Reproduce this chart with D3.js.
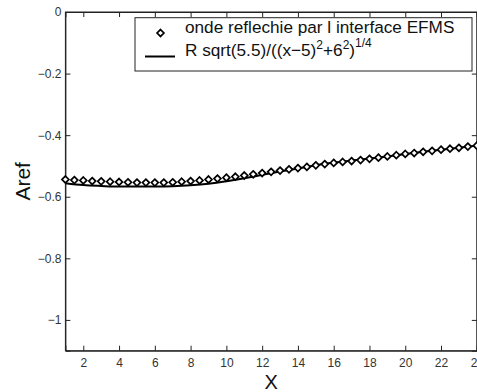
<!DOCTYPE html>
<html><head><meta charset="utf-8">
<script src="https://cdn.jsdelivr.net/npm/d3@7/dist/d3.min.js"></script>
<style>body{margin:0;background:#fff}svg{display:block}</style>
</head><body>
<script>
// data
const diamondX = d3.range(1, 24.01, 0.5);
const diamondY = [-0.544,-0.546,-0.547,-0.549,-0.550,-0.551,-0.552,-0.553,-0.554,-0.554,-0.554,-0.554,-0.553,-0.551,-0.549,-0.547,-0.544,-0.541,-0.538,-0.535,-0.531,-0.527,-0.523,-0.519,-0.515,-0.511,-0.507,-0.503,-0.498,-0.494,-0.490,-0.487,-0.484,-0.481,-0.477,-0.473,-0.469,-0.465,-0.461,-0.458,-0.454,-0.451,-0.447,-0.444,-0.441,-0.437,-0.434];
const lineX = [1,2,3,4,5,6,7,8,9,10,11,12,13,14,15,16,17,18,19,20,21,22,23,24];
const lineY = [-0.556,-0.562,-0.565,-0.567,-0.567,-0.567,-0.566,-0.563,-0.558,-0.550,-0.540,-0.529,-0.518,-0.508,-0.498,-0.489,-0.482,-0.476,-0.469,-0.461,-0.454,-0.447,-0.441,-0.434];
const xTicks = [2,4,6,8,10,12,14,16,18,20,22,24];
const yTicks = [0,-0.2,-0.4,-0.6,-0.8,-1];
const legendLabels = ["onde reflechie par l interface EFMS", "R sqrt(5.5)/((x\u22125)"];

const W = 477, H = 392;
const m = {l:65.4, r:476.8, t:12, b:350.7};
const svg = d3.select("body").append("svg").attr("width", W).attr("height", H);
const x = d3.scaleLinear().domain([1,24]).range([m.l, m.r]);
const y = d3.scaleLinear().domain([-1.1,0]).range([m.b, m.t]);
const font = "Liberation Sans, Arial, Helvetica, sans-serif";

// box
svg.append("rect").attr("x", m.l).attr("y", m.t).attr("width", m.r-m.l).attr("height", m.b-m.t)
  .attr("fill","none").attr("stroke","#222").attr("stroke-width",1);

// axes
const ax = svg.append("g").attr("transform", `translate(0,${m.b})`)
  .call(d3.axisBottom(x).tickValues(xTicks).tickSize(-5).tickPadding(8).tickFormat(d3.format("d")));
const axT = svg.append("g").attr("transform", `translate(0,${m.t})`)
  .call(d3.axisTop(x).tickValues(xTicks).tickSize(-5).tickFormat(""));
const ay = svg.append("g").attr("transform", `translate(${m.l},0)`)
  .call(d3.axisLeft(y).tickValues(yTicks).tickSize(-5).tickPadding(4).tickFormat(d => d===0 ? "0" : d3.format(".1f")(d).replace(/\.0$/,"").replace("-","\u2212")));
const ayR = svg.append("g").attr("transform", `translate(${m.r},0)`)
  .call(d3.axisRight(y).tickValues(yTicks).tickSize(-5).tickFormat(""));
[ax,axT,ay,ayR].forEach(g => {
  g.select(".domain").attr("stroke","#222");
  g.selectAll(".tick line").attr("stroke","#222");
  g.selectAll("text").attr("font-family", font).attr("font-size", 12).attr("fill","#333");
});

// line
svg.append("path").datum(lineX.map((d,i)=>[d,lineY[i]]))
  .attr("d", d3.line().curve(d3.curveMonotoneX).x(d=>x(d[0])).y(d=>y(d[1])))
  .attr("fill","none").attr("stroke","#000").attr("stroke-width",2);

// diamonds
const dia = d3.symbol().type(d3.symbolDiamond2).size(30);
svg.append("g").selectAll("path").data(diamondX.map((d,i)=>[d,diamondY[i]])).join("path")
  .attr("transform", d=>`translate(${x(d[0])},${y(d[1])})`)
  .attr("d", dia).attr("fill","#fff").attr("stroke","#000").attr("stroke-width",1.7);

// legend
const lg = svg.append("g");
lg.append("rect").attr("x",135).attr("y",17.7).attr("width",337).attr("height",53.3)
  .attr("fill","#fff").attr("stroke","#222").attr("stroke-width",1);
lg.append("path").attr("transform","translate(160.5,33)").attr("d", dia)
  .attr("fill","#fff").attr("stroke","#000").attr("stroke-width",1.7);
lg.append("line").attr("x1",145).attr("x2",175).attr("y1",56.5).attr("y2",56.5)
  .attr("stroke","#000").attr("stroke-width",2);
lg.append("text").attr("x",185).attr("y",33).attr("font-family",font).attr("font-size",17.2)
  .attr("fill","#111").text(legendLabels[0]);
const t2 = lg.append("text").attr("x",185).attr("y",56).attr("font-family",font).attr("font-size",17.2).attr("fill","#111");
t2.append("tspan").text(legendLabels[1]);
t2.append("tspan").attr("font-size",12).attr("dy",-7).text("2");
t2.append("tspan").attr("dy",7).text("+6");
t2.append("tspan").attr("font-size",12).attr("dy",-7).text("2");
t2.append("tspan").attr("dy",7).text(")");
t2.append("tspan").attr("font-size",12).attr("dy",-9).text("1/4");

// axis labels
svg.append("text").attr("transform",`translate(30,${(m.t+m.b)/2}) rotate(-90)`)
  .attr("text-anchor","middle").attr("font-family",font).attr("font-size",21).attr("fill","#111").text("Aref");
svg.append("text").attr("x",(m.l+m.r)/2).attr("y",389).attr("text-anchor","middle")
  .attr("font-family",font).attr("font-size",20).attr("fill","#111").text("X");
</script>
</body></html>
